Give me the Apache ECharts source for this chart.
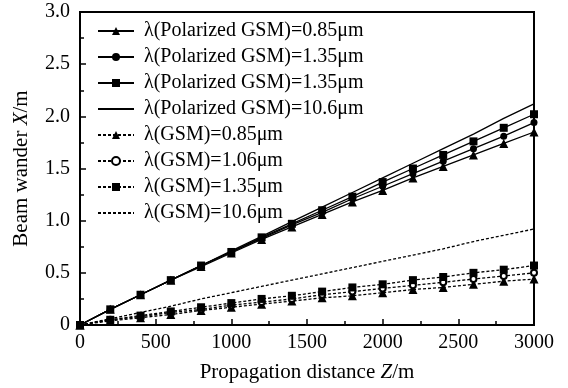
<!DOCTYPE html>
<html>
<head>
<meta charset="utf-8">
<script src="https://cdn.jsdelivr.net/npm/echarts@6/dist/echarts.min.js"></script>
<style>
  html, body {margin: 0; padding: 0; background: #fff;}
  #chart {width: 568px; height: 388px;}
</style>
</head>
<body>
<div id="chart"></div>
<script>
// propagation distance Z (m)
const distance = [0, 200, 400, 600, 800, 1000, 1200, 1400, 1600, 1800, 2000, 2200, 2400, 2600, 2800, 3000];

// beam wander X (m), polarized GSM beams
const polarized085 = [0, 0.15, 0.29, 0.43, 0.56, 0.69, 0.82, 0.94, 1.06, 1.18, 1.29, 1.41, 1.52, 1.63, 1.74, 1.85];
const polarized135a = [0, 0.15, 0.29, 0.43, 0.57, 0.70, 0.83, 0.96, 1.08, 1.21, 1.33, 1.45, 1.57, 1.69, 1.81, 1.94];
const polarized135b = [0, 0.15, 0.29, 0.43, 0.57, 0.70, 0.84, 0.97, 1.10, 1.23, 1.37, 1.50, 1.63, 1.76, 1.89, 2.02];
const polarized106 = [0, 0.15, 0.29, 0.43, 0.57, 0.71, 0.85, 0.99, 1.13, 1.27, 1.41, 1.55, 1.69, 1.83, 1.98, 2.12];

// beam wander X (m), GSM beams
const gsm085 = [0, 0.04, 0.07, 0.10, 0.14, 0.17, 0.20, 0.23, 0.26, 0.28, 0.31, 0.34, 0.36, 0.39, 0.42, 0.44];
const gsm106 = [0, 0.05, 0.08, 0.12, 0.15, 0.19, 0.22, 0.25, 0.29, 0.32, 0.35, 0.38, 0.41, 0.44, 0.47, 0.50];
const gsm135 = [0, 0.05, 0.09, 0.13, 0.17, 0.21, 0.25, 0.28, 0.32, 0.36, 0.39, 0.43, 0.46, 0.50, 0.53, 0.57];
const gsm1060 = [0, 0.06, 0.12, 0.18, 0.25, 0.31, 0.37, 0.43, 0.49, 0.55, 0.61, 0.67, 0.73, 0.80, 0.86, 0.92];

const legendLabels = {
  p085: 'λ(Polarized GSM)=0.85μm',
  p135a: 'λ(Polarized GSM)=1.35μm',
  p135b: 'λ(Polarized GSM)=1.35μm',
  p106: 'λ(Polarized GSM)=10.6μm',
  g085: 'λ(GSM)=0.85μm',
  g106: 'λ(GSM)=1.06μm',
  g135: 'λ(GSM)=1.35μm',
  g1060: 'λ(GSM)=10.6μm'
};
// lines drawn without markers
const noMarker = ['p106', 'g1060'];

const font = 'Liberation Serif';
const pair = (ys) => distance.map((x, i) => [x, ys[i]]);
const dash = [3, 2];

const chart = echarts.init(document.getElementById('chart'));
chart.setOption({
  animation: false,
  textStyle: {fontFamily: font, color: '#000'},
  grid: {left: 80, right: 34, top: 12, bottom: 63, show: true, borderColor: '#000', borderWidth: 2},
  legend: {
    orient: 'vertical',
    left: 92,
    top: 16,
    itemWidth: 36,
    itemHeight: 10,
    itemGap: 6,
    textStyle: {fontFamily: font, fontSize: 20, color: '#000', padding: [0, 0, 0, 5]},
    formatter: (name) => legendLabels[name],
    data: Object.keys(legendLabels).map(name =>
      noMarker.includes(name) ? {name, itemStyle: {opacity: 0}} : name)
  },
  xAxis: {
    type: 'value',
    min: 0, max: 3000, interval: 500,
    name: '{n|Propagation distance }{i|Z}{n|/m}',
    nameLocation: 'middle',
    nameGap: 37,
    nameTextStyle: {rich: {
      n: {fontFamily: font, fontSize: 21, color: '#000'},
      i: {fontFamily: font, fontSize: 21, fontStyle: 'italic', color: '#000'}
    }},
    axisLine: {lineStyle: {color: '#000', width: 2}},
    axisTick: {inside: true, length: 6, lineStyle: {color: '#000', width: 1.5}},
    minorTick: {show: true, splitNumber: 2, length: 4, lineStyle: {color: '#000', width: 1.5}},
    splitLine: {show: false},
    axisLabel: {fontFamily: font, fontSize: 20, color: '#000', margin: 8, formatter: (v) => String(v)}
  },
  yAxis: {
    type: 'value',
    min: 0, max: 3, interval: 0.5,
    name: '{n|Beam wander }{i|X}{n|/m}',
    nameLocation: 'middle',
    nameGap: 48,
    nameTextStyle: {rich: {
      n: {fontFamily: font, fontSize: 21, color: '#000'},
      i: {fontFamily: font, fontSize: 21, fontStyle: 'italic', color: '#000'}
    }},
    axisLine: {lineStyle: {color: '#000', width: 2}},
    axisTick: {inside: true, length: 6, lineStyle: {color: '#000', width: 1.5}},
    minorTick: {show: true, splitNumber: 2, length: 4, lineStyle: {color: '#000', width: 1.5}},
    splitLine: {show: false},
    axisLabel: {
      fontFamily: font, fontSize: 20, color: '#000', margin: 10,
      formatter: (v) => v === 0 ? '0' : v.toFixed(1)
    }
  },
  series: [
    {name: 'p085', data: pair(polarized085), symbol: 'triangle', symbolSize: 9, lineStyle: {type: 'solid'}},
    {name: 'p135a', data: pair(polarized135a), symbol: 'circle', symbolSize: 7, lineStyle: {type: 'solid'}},
    {name: 'p135b', data: pair(polarized135b), symbol: 'rect', symbolSize: 8, lineStyle: {type: 'solid'}},
    {name: 'p106', data: pair(polarized106), symbol: 'none', lineStyle: {type: 'solid'}},
    {name: 'g085', data: pair(gsm085), symbol: 'triangle', symbolSize: 9, lineStyle: {type: dash}},
    {name: 'g106', data: pair(gsm106), symbol: 'emptyCircle', symbolSize: 6, lineStyle: {type: dash}},
    {name: 'g135', data: pair(gsm135), symbol: 'rect', symbolSize: 8, lineStyle: {type: dash}},
    {name: 'g1060', data: pair(gsm1060), symbol: 'none', lineStyle: {type: dash}}
  ].map(s => ({
    type: 'line',
    showSymbol: s.symbol !== 'none',
    itemStyle: {color: '#000'},
    ...s,
    lineStyle: {color: '#000', width: 1.3, ...s.lineStyle}
  }))
});
</script>
</body>
</html>
